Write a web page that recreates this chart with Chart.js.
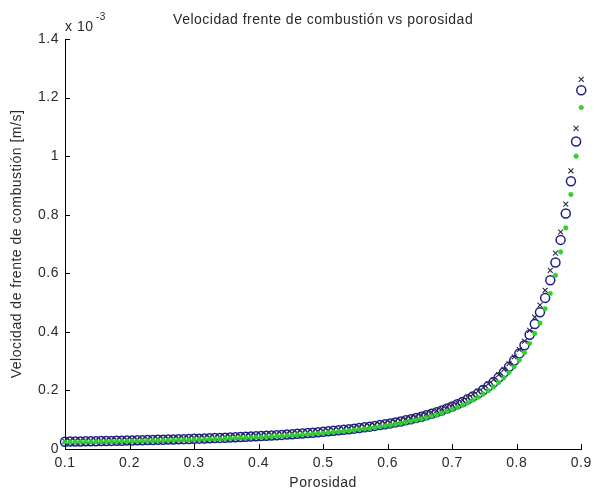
<!DOCTYPE html>
<html>
<head>
<meta charset="utf-8">
<script src="https://cdn.jsdelivr.net/npm/chart.js@4.4.1/dist/chart.umd.min.js"></script>
<style>
	html, body { margin: 0; padding: 0; background: #fff; }
	#grafico { display: block; }
</style>
</head>
<body>
<canvas id="grafico" width="597" height="492"></canvas>
<script>
// porosidad (eje x)
var porosidad = [
	0.100, 0.108, 0.116, 0.124, 0.132, 0.140, 0.148, 0.156, 0.164, 0.172,
	0.180, 0.188, 0.196, 0.204, 0.212, 0.220, 0.228, 0.236, 0.244, 0.252,
	0.260, 0.268, 0.276, 0.284, 0.292, 0.300, 0.308, 0.316, 0.324, 0.332,
	0.340, 0.348, 0.356, 0.364, 0.372, 0.380, 0.388, 0.396, 0.404, 0.412,
	0.420, 0.428, 0.436, 0.444, 0.452, 0.460, 0.468, 0.476, 0.484, 0.492,
	0.500, 0.508, 0.516, 0.524, 0.532, 0.540, 0.548, 0.556, 0.564, 0.572,
	0.580, 0.588, 0.596, 0.604, 0.612, 0.620, 0.628, 0.636, 0.644, 0.652,
	0.660, 0.668, 0.676, 0.684, 0.692, 0.700, 0.708, 0.716, 0.724, 0.732,
	0.740, 0.748, 0.756, 0.764, 0.772, 0.780, 0.788, 0.796, 0.804, 0.812,
	0.820, 0.828, 0.836, 0.844, 0.852, 0.860, 0.868, 0.876, 0.884, 0.892, 0.900
];

// velocidades en unidades de 1e-3 m/s
var velCirculos = [
	0.0250, 0.0253, 0.0256, 0.0258, 0.0261, 0.0264, 0.0267, 0.0271, 0.0274, 0.0277,
	0.0281, 0.0284, 0.0288, 0.0292, 0.0296, 0.0300, 0.0304, 0.0308, 0.0313, 0.0317,
	0.0322, 0.0327, 0.0332, 0.0337, 0.0342, 0.0348, 0.0354, 0.0360, 0.0366, 0.0372,
	0.0379, 0.0386, 0.0393, 0.0401, 0.0408, 0.0416, 0.0425, 0.0433, 0.0442, 0.0452,
	0.0461, 0.0472, 0.0482, 0.0493, 0.0505, 0.0517, 0.0530, 0.0543, 0.0557, 0.0571,
	0.0586, 0.0602, 0.0619, 0.0637, 0.0655, 0.0674, 0.0695, 0.0717, 0.0740, 0.0764,
	0.0789, 0.0816, 0.0845, 0.0875, 0.0908, 0.0942, 0.0978, 0.1017, 0.1059, 0.1104,
	0.1152, 0.1203, 0.1258, 0.1317, 0.1381, 0.1451, 0.1526, 0.1607, 0.1696, 0.1793,
	0.1898, 0.2014, 0.2142, 0.2282, 0.2439, 0.2612, 0.2805, 0.3021, 0.3264, 0.3540,
	0.3900, 0.4270, 0.4670, 0.5160, 0.5760, 0.6370, 0.7140, 0.8040, 0.9140, 1.0500, 1.2250
];

var velCruces = [
	0.0260, 0.0263, 0.0266, 0.0268, 0.0271, 0.0275, 0.0278, 0.0282, 0.0285, 0.0288,
	0.0292, 0.0295, 0.0300, 0.0304, 0.0308, 0.0312, 0.0316, 0.0320, 0.0326, 0.0330,
	0.0335, 0.0340, 0.0345, 0.0350, 0.0356, 0.0362, 0.0368, 0.0374, 0.0381, 0.0387,
	0.0394, 0.0401, 0.0409, 0.0417, 0.0424, 0.0433, 0.0442, 0.0450, 0.0460, 0.0470,
	0.0479, 0.0491, 0.0501, 0.0513, 0.0525, 0.0538, 0.0551, 0.0565, 0.0579, 0.0594,
	0.0609, 0.0626, 0.0644, 0.0662, 0.0681, 0.0701, 0.0723, 0.0746, 0.0770, 0.0795,
	0.0821, 0.0849, 0.0879, 0.0910, 0.0944, 0.0980, 0.1017, 0.1058, 0.1101, 0.1148,
	0.1198, 0.1251, 0.1308, 0.1370, 0.1436, 0.1509, 0.1587, 0.1671, 0.1764, 0.1865,
	0.1974, 0.2095, 0.2228, 0.2373, 0.2537, 0.2716, 0.2917, 0.3142, 0.3395, 0.3682,
	0.4050, 0.4500, 0.4910, 0.5420, 0.6100, 0.6690, 0.7410, 0.8360, 0.9500, 1.0950, 1.2620
];

var velPuntos = [
	0.0233, 0.0235, 0.0238, 0.0240, 0.0243, 0.0246, 0.0248, 0.0252, 0.0255, 0.0258,
	0.0261, 0.0264, 0.0268, 0.0272, 0.0275, 0.0279, 0.0283, 0.0286, 0.0291, 0.0295,
	0.0299, 0.0304, 0.0309, 0.0313, 0.0318, 0.0324, 0.0329, 0.0335, 0.0340, 0.0346,
	0.0352, 0.0359, 0.0365, 0.0373, 0.0379, 0.0387, 0.0395, 0.0403, 0.0411, 0.0420,
	0.0429, 0.0439, 0.0448, 0.0458, 0.0470, 0.0481, 0.0493, 0.0505, 0.0518, 0.0531,
	0.0545, 0.0560, 0.0576, 0.0592, 0.0609, 0.0627, 0.0646, 0.0667, 0.0688, 0.0711,
	0.0734, 0.0759, 0.0786, 0.0814, 0.0844, 0.0876, 0.0910, 0.0946, 0.0985, 0.1027,
	0.1071, 0.1119, 0.1170, 0.1225, 0.1284, 0.1349, 0.1419, 0.1495, 0.1577, 0.1667,
	0.1765, 0.1873, 0.1992, 0.2122, 0.2268, 0.2429, 0.2609, 0.2810, 0.3036, 0.3292,
	0.3600, 0.3940, 0.4300, 0.4790, 0.5310, 0.5930, 0.6730, 0.7550, 0.8690, 1.0000, 1.1660
];

var titulo = "Velocidad frente de combustión vs porosidad";
var etiquetaX = "Porosidad";
var etiquetaY = "Velocidad de frente de combustión [m/s]";

var fuente = "'Liberation Sans', Arial, sans-serif";
var colorTexto = "#2a2a2a";

function puntos(valores) {
	return porosidad.map(function(x, i) {
		return { x : x, y : valores[i] };
	});
}

// ticks hacia adentro, textos y factor de escala al estilo MATLAB
var estiloMatlab = {
	id : "estiloMatlab",
	beforeDraw : function(chart) {
		// el texto de MATLAB sale algo mas espaciado
		chart.ctx.letterSpacing = "0.5px";
	},
	afterDraw : function(chart) {
		var ctx = chart.ctx;
		var ejeX = chart.scales.x;
		var ejeY = chart.scales.y;
		var area = chart.chartArea;
		ctx.save();
		ctx.strokeStyle = "#000";
		ctx.lineWidth = 1;
		ctx.beginPath();
		ejeX.ticks.forEach(function(t) {
			var px = Math.round(ejeX.getPixelForValue(t.value)) + 0.5;
			ctx.moveTo(px, area.bottom);
			ctx.lineTo(px, area.bottom - 5);
		});
		ejeY.ticks.forEach(function(t) {
			var py = Math.round(ejeY.getPixelForValue(t.value)) + 0.5;
			ctx.moveTo(area.left, py);
			ctx.lineTo(area.left + 5, py);
		});
		ctx.stroke();

		ctx.fillStyle = colorTexto;
		ctx.font = "14px " + fuente;
		ctx.textBaseline = "alphabetic";
		ctx.textAlign = "center";
		ctx.fillText(titulo, (area.left + area.right) / 2, 24);
		ctx.fillText(etiquetaX, (area.left + area.right) / 2, 487);

		ctx.textAlign = "left";
		ctx.fillText("x 10", area.left, 31);
		ctx.font = "10px " + fuente;
		ctx.fillText("-3", area.left + 31, 20);

		ctx.font = "14px " + fuente;
		ctx.translate(21, (area.top + area.bottom) / 2);
		ctx.rotate(-Math.PI / 2);
		ctx.textAlign = "center";
		ctx.fillText(etiquetaY, 0, 0);
		ctx.restore();
	}
};

var ctx = document.getElementById("grafico").getContext("2d");

new Chart(ctx, {
	type : "scatter",
	data : {
		datasets : [ {
			label : "puntos",
			data : puntos(velPuntos),
			clip : false,
			pointStyle : "circle",
			pointRadius : 2.3,
			pointBackgroundColor : "#2fd12f",
			pointBorderColor : "#2fd12f",
			pointBorderWidth : 0.5
		}, {
			label : "cruces",
			data : puntos(velCruces),
			clip : false,
			pointStyle : "crossRot",
			pointRadius : 3.5,
			pointBorderColor : "#2c2c44",
			pointBorderWidth : 1.1
		}, {
			label : "circulos",
			data : puntos(velCirculos),
			clip : false,
			pointStyle : "circle",
			pointRadius : 4.5,
			pointBackgroundColor : "rgba(0,0,0,0)",
			pointBorderColor : "#1e1e8a",
			pointBorderWidth : 1.5
		} ]
	},
	options : {
		responsive : false,
		animation : false,
		events : [],
		layout : {
			padding : { left : 0, top : 39, right : 9, bottom : 0 }
		},
		plugins : {
			legend : { display : false },
			tooltip : { enabled : false }
		},
		scales : {
			x : {
				type : "linear",
				min : 0.1,
				max : 0.9,
				afterFit : function(scale) { scale.height = 43; },
				grid : { drawOnChartArea : false, drawTicks : false },
				border : { display : true, color : "#000", width : 1 },
				ticks : {
					stepSize : 0.1,
					padding : 6,
					color : colorTexto,
					font : { family : fuente, size : 14 },
					maxRotation : 0,
					callback : function(v) { return +v.toFixed(1); }
				}
			},
			y : {
				type : "linear",
				min : 0,
				max : 1.4,
				afterFit : function(scale) { scale.width = 65; },
				grid : { drawOnChartArea : false, drawTicks : false },
				border : { display : true, color : "#000", width : 1 },
				ticks : {
					stepSize : 0.2,
					padding : 6,
					color : colorTexto,
					font : { family : fuente, size : 14 },
					callback : function(v) { return +v.toFixed(1); }
				}
			}
		}
	},
	plugins : [ estiloMatlab ]
});
</script>
</body>
</html>
